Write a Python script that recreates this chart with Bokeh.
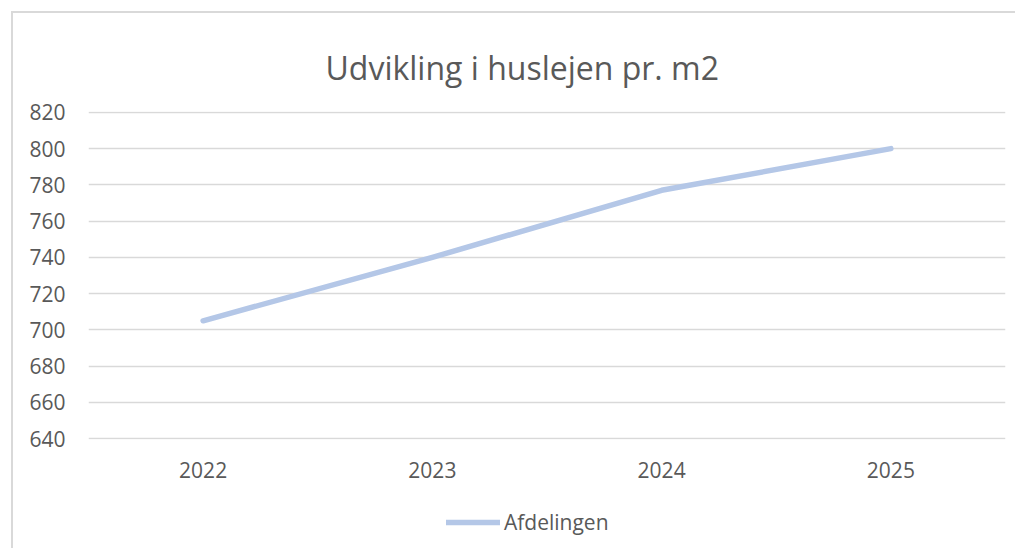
from bokeh.plotting import figure
from bokeh.layouts import column
from bokeh.models import FactorRange, Range1d, Legend, LegendItem, FixedTicker
from bokeh.embed import file_html
from bokeh.resources import INLINE

years = ["2022", "2023", "2024", "2025"]
afdelingen = [705, 740, 777, 800]
y_ticks = [640, 660, 680, 700, 720, 740, 760, 780, 800, 820]
series_name = "Afdelingen"

FONT = "Open Sans"
TXT = "#595959"
LINE = "#b4c7e7"
GRID = "#d9d9d9"
W = 1002

p = figure(
    x_range=FactorRange(*years, range_padding=0),
    y_range=Range1d(639.5, 820.5),
    width=W, height=487,
    output_backend="svg", toolbar_location=None,
    min_border_left=75, min_border_right=10, min_border_top=98, min_border_bottom=61,
    title="Udvikling i huslejen pr. m2",
)

p.title.align = "left"
p.title.offset = 237
p.title.standoff = 46
p.title.text_font = FONT
p.title.text_font_size = "32px"
p.title.text_font_style = "normal"
p.title.text_color = TXT

p.outline_line_color = None
p.background_fill_color = "white"
p.border_fill_color = "white"

p.xgrid.grid_line_color = None
p.ygrid.grid_line_color = GRID
p.ygrid.grid_line_width = 1.5
p.yaxis.ticker = FixedTicker(ticks=y_ticks)

for ax in (p.xaxis, p.yaxis):
    ax.axis_line_color = None
    ax.major_tick_line_color = None
    ax.minor_tick_line_color = None
    ax.major_label_text_font = FONT
    ax.major_label_text_font_size = "21px"
    ax.major_label_text_color = TXT
p.yaxis.major_label_standoff = 17
p.xaxis.major_label_standoff = 16

p.line(years, afdelingen, line_color=LINE, line_width=5.5, line_cap="round", line_join="round")

# legend strip below the chart (its line lies outside the strip's visible range)
lg = figure(width=W, height=48, output_backend="svg", toolbar_location=None,
            x_range=FactorRange(*years, range_padding=0), y_range=Range1d(0, 1),
            x_axis_location=None, y_axis_location=None,
            min_border_left=0, min_border_right=0, min_border_top=0, min_border_bottom=0)
lg.grid.grid_line_color = None
lg.outline_line_color = None
lg.background_fill_color = "white"
lg.border_fill_color = "white"
legend_line = lg.line(years, afdelingen, line_color=LINE, line_width=5.5, line_cap="round")

legend = Legend(items=[LegendItem(label=series_name, renderers=[legend_line])],
                orientation="horizontal", location=(358, 12),
                label_text_font=FONT, label_text_font_size="21px", label_text_color=TXT,
                glyph_width=54, glyph_height=20, border_line_color=None,
                background_fill_alpha=0, margin=0, padding=0, label_standoff=4)
lg.add_layout(legend)

layout = column(p, lg, spacing=0, styles={
    "border-left": "2px solid #d9d9d9",
    "border-top": "2px solid #d9d9d9",
    "margin-left": "11px",
    "margin-top": "11px",
})

open("out.html", "w").write(file_html(layout, INLINE))
